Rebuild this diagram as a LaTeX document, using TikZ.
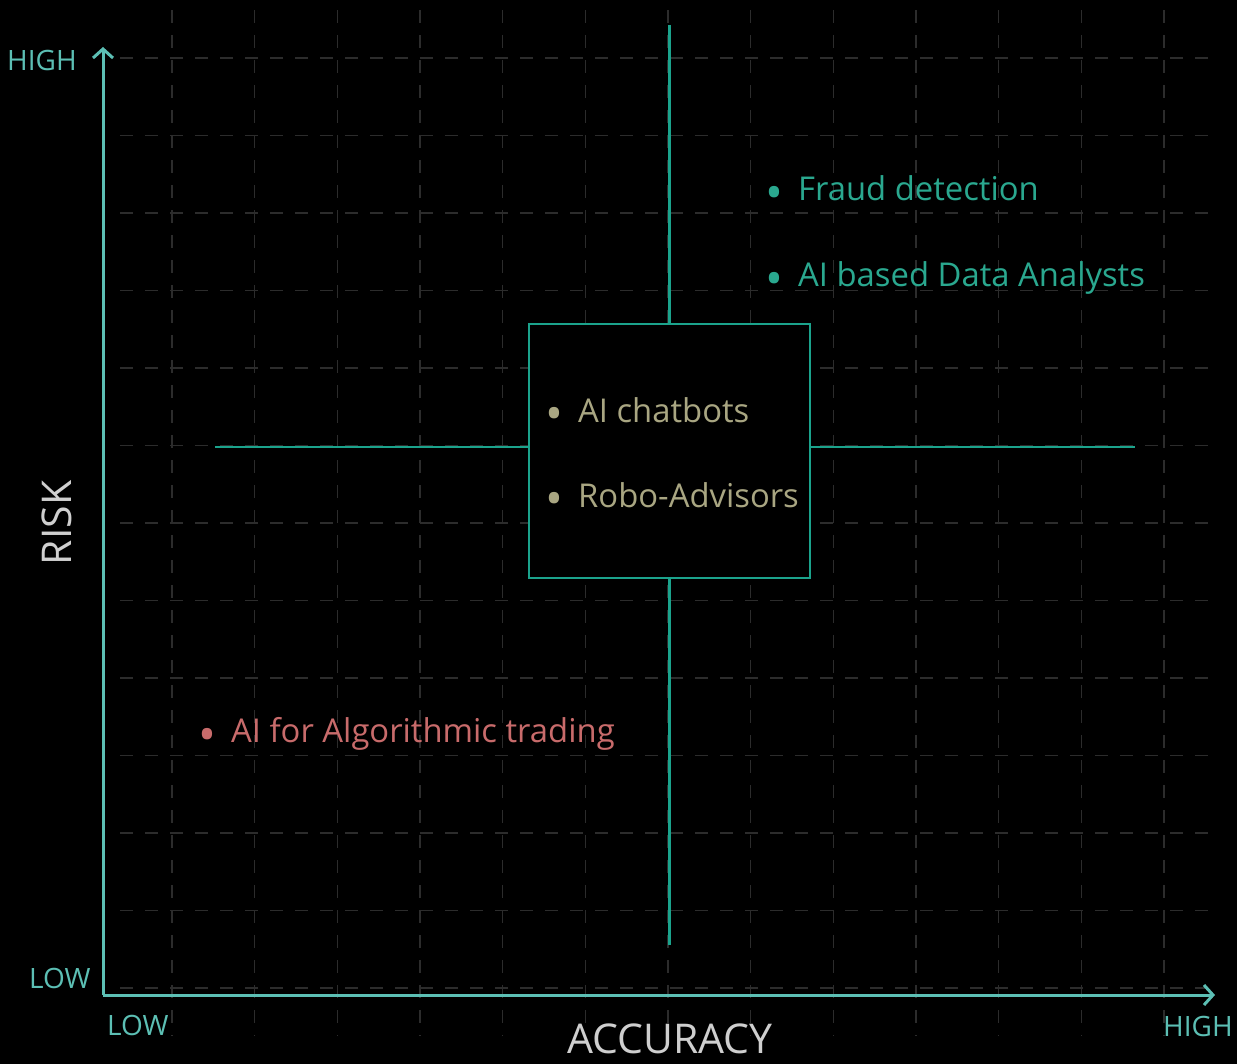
\documentclass[tikz,border=0pt]{standalone}
\usepackage{fontspec}
\setmainfont{Open Sans}
\usetikzlibrary{arrows.meta}
\definecolor{axisteal}{HTML}{5CBFB4}
\definecolor{crossteal}{HTML}{1BA38C}
\definecolor{itemgreen}{HTML}{2AA88F}
\definecolor{itemolive}{HTML}{A9A682}
\definecolor{itemred}{HTML}{C86B6B}
\definecolor{labelgrey}{HTML}{CFCFCF}
\definecolor{gridgrey}{HTML}{2C2C2C}
\newcommand{\dotmark}{\llap{\raisebox{-9pt}{\scalebox{1.45}{\textbullet}}\hspace{15pt}}}
\begin{document}
\begin{tikzpicture}[x=1pt,y=-1pt,
  gridline/.style={gridgrey,line width=1.3pt,dash pattern=on 13pt off 12pt},
  axisline/.style={axisteal,line width=3pt,-{Straight Barb[length=9pt,width=20pt,line width=3pt]}},
  crossline/.style={crossteal,line width=2.5pt},
  quadbox/.style={draw=crossteal,line width=2.5pt,fill=black,minimum width=281pt,minimum height=254pt,inner sep=0pt},
  item/.style={anchor=base west,font=\fontsize{32.8}{38}\selectfont,inner sep=0pt},
  level/.style={axisteal,anchor=base west,font=\fontsize{28}{34}\selectfont,inner sep=0pt},
  title/.style={labelgrey,font=\fontsize{41}{48}\selectfont,inner sep=0pt}]
\fill[black] (0,0) rectangle (1237,1064);
\useasboundingbox (0,0) rectangle (1237,1064);
% grid
\foreach \x in {0,...,12}\draw[gridline] ({172+82.67*\x},10) -- ({172+82.67*\x},1036);
\foreach \y in {0,...,12}\draw[gridline] (120,{58+77.5*\y}) -- (1216,{58+77.5*\y});
% axes
\coordinate (origin) at (103,995);
\coordinate (ytop) at (103,47);
\coordinate (xend) at (1215,995);
\draw[axisline] (origin) -- (ytop);
\draw[axisline] (origin) -- (xend);
\node[level] (yhigh) at (7,71) {HIGH};
\node[level] (ylow) at (29,988) {LOW};
\node[level] (xlow) at (107,1035) {LOW};
\node[level] (xhigh) at (1163,1036) {HIGH};
\node[title,anchor=base] (xtitle) at (670,1053) {ACCURACY};
\node[title,rotate=90] (ytitle) at (57,523) {RISK};
% quadrants
\node[quadbox] (core) at (669.5,451) {};
\coordinate (ctop) at (669.5,25);
\coordinate (cbottom) at (669.5,945);
\coordinate (cleft) at (215,447);
\coordinate (cright) at (1135,447);
\draw[crossline] (ctop) -- (core.north);
\draw[crossline] (core.south) -- (cbottom);
\draw[crossline] (cleft) -- (cleft -| core.west);
\draw[crossline] (cright -| core.east) -- (cright);
% items
\node[item,itemgreen] (fraud) at (798,201) {\dotmark Fraud detection};
\node[item,itemgreen] (analysts) at (798,287) {\dotmark AI based Data Analysts};
\node[item,itemolive] (chatbots) at (578,422) {\dotmark AI chatbots};
\node[item,itemolive] (robo) at (578,507) {\dotmark Robo-Advisors};
\node[item,itemred] (trading) at (231,742) {\dotmark AI for Algorithmic trading};
\end{tikzpicture}
\end{document}
